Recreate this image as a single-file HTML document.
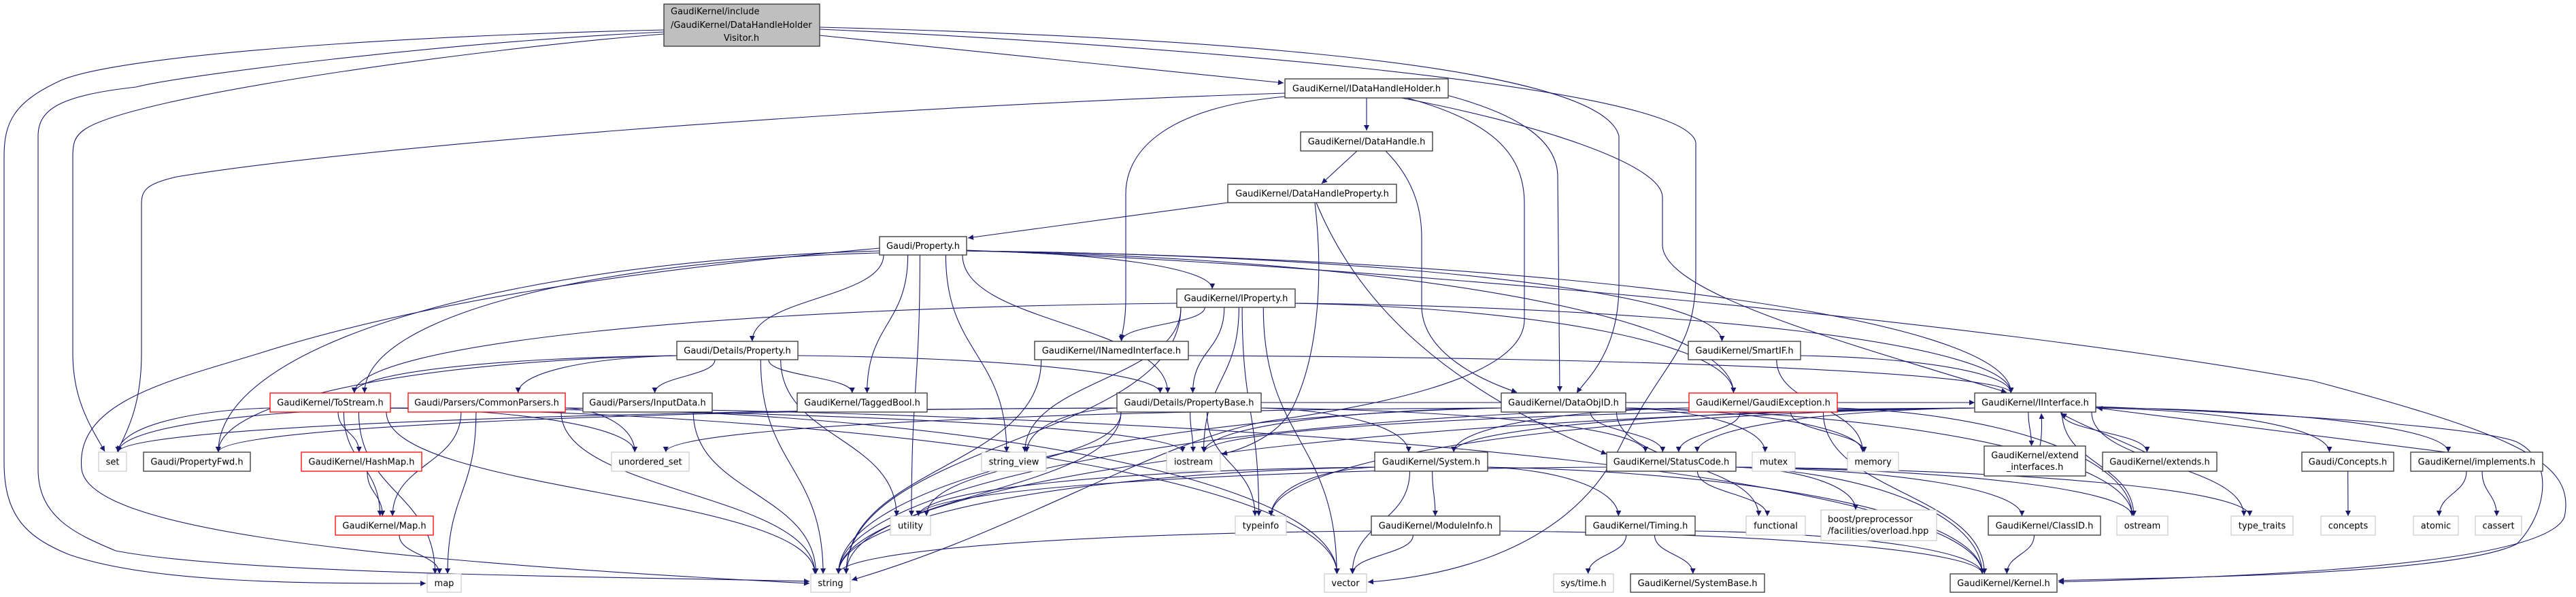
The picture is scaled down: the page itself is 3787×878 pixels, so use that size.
<!DOCTYPE html>
<html><head><meta charset="utf-8">
<style>
html,body{margin:0;padding:0;background:#fff;width:3787px;height:878px;overflow:hidden}
svg{display:block}
text{font-family:"DejaVu Sans","Liberation Sans",sans-serif;font-size:13px;fill:#000}
</style></head>
<body>
<svg id="g" xmlns="http://www.w3.org/2000/svg" width="3787" height="878" viewBox="0 0 3787 878">
<defs>
<marker id="ar" viewBox="0 0 10 10" refX="10" refY="5" markerWidth="10" markerHeight="8" markerUnits="userSpaceOnUse" orient="auto">
<path d="M0,0 L10,5 L0,10 z" fill="#191970"/>
</marker>
</defs>
<g id="edges" fill="none" stroke="#191970" stroke-width="1.1"></g>
<g id="nodes"></g>
</svg>
<script>
var R={r1:[116,144],r2:[194,222],r3:[271,298],r4:[348,375],r5:[425,452],r6:[502,529],r7:[578,606],r8:[665,693],r9:[759,787],r10:[844,871]};
var N={};
function n(id,x1,x2,row,label,t){var y=R[row];N[id]={x1:x1,x2:x2,y1:y[0],y2:y[1],label:label,t:t||'b',cx:(x1+x2)/2};}
N.T={x1:976,x2:1205,y1:6,y2:68,cx:1090,label:null,t:'top'};
n('IDHH',1889,2129,'r1','GaudiKernel/IDataHandleHolder.h');
n('DH',1912,2106,'r2','GaudiKernel/DataHandle.h');
n('DHP',1805,2053,'r3','GaudiKernel/DataHandleProperty.h');
n('Prop',1293,1421,'r4','Gaudi/Property.h');
n('IProp',1730,1904,'r5','GaudiKernel/IProperty.h');
n('DetProp',995,1173,'r6','Gaudi/Details/Property.h');
n('INamed',1521,1747,'r6','GaudiKernel/INamedInterface.h');
n('SmartIF',2482,2647,'r6','GaudiKernel/SmartIF.h');
n('ToStream',397,574,'r7','GaudiKernel/ToStream.h','r');
n('CommonP',600,831,'r7','Gaudi/Parsers/CommonParsers.h','r');
n('InputData',857,1047,'r7','Gaudi/Parsers/InputData.h');
n('Tagged',1172,1363,'r7','GaudiKernel/TaggedBool.h');
n('PropBase',1642,1854,'r7','Gaudi/Details/PropertyBase.h');
n('DataObjID',2207,2390,'r7','GaudiKernel/DataObjID.h');
n('GExc',2483,2701,'r7','GaudiKernel/GaudiException.h','r');
n('IInt',2903,3081,'r7','GaudiKernel/IInterface.h');
n('set',145,186,'r8','set','g');
n('PFwd',211,368,'r8','Gaudi/PropertyFwd.h');
n('HashMap',443,620,'r8','GaudiKernel/HashMap.h','r');
n('uset',899,1013,'r8','unordered_set','g');
n('sview',1443,1538,'r8','string_view','g');
n('iostream',1715,1794,'r8','iostream','g');
n('System',2021,2187,'r8','GaudiKernel/System.h');
n('SC',2362,2552,'r8','GaudiKernel/StatusCode.h');
n('mutex',2576,2639,'r8','mutex','g');
n('memory',2716,2791,'r8','memory','g');
N.extif={x1:2917,x2:3066,y1:656,y2:700,cx:2991.5,label:['GaudiKernel/extend','_interfaces.h'],t:'b'};
n('extends',3091,3259,'r8','GaudiKernel/extends.h');
n('Concepts',3384,3519,'r8','Gaudi/Concepts.h');
n('impl',3544,3738,'r8','GaudiKernel/implements.h');
n('Map',493,637,'r9','GaudiKernel/Map.h','r');
n('utility',1309,1368,'r9','utility','g');
n('typeinfo',1816,1891,'r9','typeinfo','g');
n('ModInfo',2016,2205,'r9','GaudiKernel/ModuleInfo.h');
n('Timing',2331,2492,'r9','GaudiKernel/Timing.h');
n('functional',2567,2654,'r9','functional','g');
N.boost={x1:2677,x2:2847,y1:750,y2:795,cx:2762,label:['boost/preprocessor','/facilities/overload.hpp'],t:'g',left:true};
n('ClassID',2923,3088,'r9','GaudiKernel/ClassID.h');
n('ostream',3112,3187,'r9','ostream','g');
n('ttraits',3280,3371,'r9','type_traits','g');
n('concepts',3412,3492,'r9','concepts','g');
n('atomic',3548,3614,'r9','atomic','g');
n('cassert',3639,3707,'r9','cassert','g');
n('map',628,678,'r10','map','g');
n('string',1192,1250,'r10','string','g');
n('vector',1947,2009,'r10','vector','g');
n('systime',2284,2372,'r10','sys/time.h','g');
n('SysBase',2397,2594,'r10','GaudiKernel/SystemBase.h');
n('Kernel',2867,3024,'r10','GaudiKernel/Kernel.h');

var E=document.getElementById('edges'),NG=document.getElementById('nodes'),S='http://www.w3.org/2000/svg';
function P(d){var p=document.createElementNS(S,'path');p.setAttribute('d',d);p.setAttribute('marker-end','url(#ar)');E.appendChild(p);}
function cl(v,a,b){return Math.max(a,Math.min(b,v));}
function e(a,b,o){a=N[a];b=N[b];o=o||0;
 var sx,sy,tx,ty;
 if(b.y1>a.y2+4){
  var dxc=b.cx-a.cx, dyc=b.y1-a.y2;
  if(Math.abs(dxc)>3.2*dyc && (b.x2<a.x1||b.x1>a.x2)){
   // side exit
   if(dxc>0){sx=a.x2;tx=cl(b.x1+(b.x2-b.x1)*0.3+o,b.x1+6,b.x2-6);}else{sx=a.x1;tx=cl(b.x2-(b.x2-b.x1)*0.3+o,b.x1+6,b.x2-6);}
   sy=a.y2-6+o*0.2;ty=b.y1;
   var dx=tx-sx,dy=ty-sy;
   P('M'+sx+','+sy+' C'+(sx+dx*0.55)+','+(sy+dy*0.05)+' '+tx+','+(ty-dy*0.55)+' '+tx+','+ty);
  }else{
  sx=cl(a.cx+(b.cx-a.cx)*0.25+o,a.x1+6,a.x2-6);sy=a.y2;
  tx=cl(b.cx+(a.cx-b.cx)*0.08+o*0.5,b.x1+6,b.x2-6);ty=b.y1;
  var dy=ty-sy;
  P('M'+sx+','+sy+' C'+sx+','+(sy+dy*0.5)+' '+tx+','+(ty-dy*0.5)+' '+tx+','+ty);
  }
 }else{
  if(b.cx>a.cx){sx=a.x2;tx=b.x1;}else{sx=a.x1;tx=b.x2;}
  sy=(a.y1+a.y2)/2+o;ty=(b.y1+b.y2)/2+o;
  var mx=(sx+tx)/2;
  P('M'+sx+','+sy+' C'+mx+','+sy+' '+mx+','+ty+' '+tx+','+ty);
 }}
P('M976,44 C600,52 180,80 90,118 C20,150 6,180 6,230 L6,680 C6,760 40,790 100,815 C220,858 450,858 626,858');
P('M976,47 C650,62 260,112 200,128 C90,140 56,160 56,200 L56,690 C56,760 110,785 170,810 C350,845 900,848 1190,855');
P('M976,50 C700,72 200,140 125,190 C110,200 107,210 107,230 L107,520 C107,590 135,630 154,664');
P('M1889,137 C1200,160 500,220 260,260 C215,270 208,280 208,300 L208,520 C208,590 190,630 172,664');
P('M1205,40 C1600,50 2350,80 2380,200 L2380,420 C2380,520 2330,560 2318,578');
P('M1205,43 C1600,60 2480,120 2493,210 L2493,400 C2493,520 2450,520 2380,660 C2300,820 2100,850 2011,856');
P('M1205,52 L1887,122');
P('M2068,144 C2200,180 2241,230 2241,300 L2241,470 C2241,560 2000,600 1860,620 C1700,650 1500,780 1252,853');
P('M2127,140 C2240,170 2290,210 2290,260 L2293,576');
P('M2060,144 C2250,180 2444,240 2444,290 L2444,360 C2444,430 2700,500 2950,577');
P('M1889,142 C1700,160 1655,230 1655,285 L1655,440 C1655,470 1650,490 1648,500');
P('M2009,144 L2009,192');
P('M2037,222 C2085,270 2090,320 2090,350 L2090,450 C2090,520 2180,560 2230,577');
P('M1995,222 L1943,270');
P('M1805,298 C1650,320 1500,340 1423,350');
P('M1933,298 C1945,400 1940,520 1900,600 C1880,640 1830,660 1796,668');
P('M1935,298 C1990,430 2100,560 2362,668');
e('Prop','IProp');e('Prop','DetProp');e('Prop','Tagged');e('Prop','utility');e('Prop','sview');e('Prop','PropBase');
e('Prop','ToStream',15);e('Prop','PFwd');e('Prop','SmartIF');e('Prop','IInt');e('Prop','GExc');
P('M1421,368 C2000,390 2900,470 3400,560 C3700,640 3787,680 3770,760 C3740,840 3200,850 3026,856');
P('M1293,365 C900,400 600,450 380,520 C250,560 110,590 120,690 C130,770 450,820 1190,858');
e('IProp','INamed');e('IProp','PropBase');e('IProp','sview',-20);e('IProp','iostream',20);e('IProp','string',-30);e('IProp','ToStream');e('IProp','IInt');e('IProp','GExc');e('IProp','vector');e('IProp','typeinfo');
e('DetProp','ToStream');e('DetProp','CommonP');e('DetProp','InputData');e('DetProp','Tagged');e('DetProp','PropBase');e('DetProp','string');e('DetProp','utility');e('DetProp','PFwd');
e('INamed','IInt');e('INamed','string');
e('SmartIF','IInt');e('SmartIF','memory');
e('ToStream','set');e('ToStream','HashMap');e('ToStream','Map');e('ToStream','map');e('ToStream','string');e('ToStream','uset');e('ToStream','vector');e('ToStream','iostream');
e('CommonP','Map');e('CommonP','map');e('CommonP','string');e('CommonP','uset');e('CommonP','set');e('CommonP','vector');e('CommonP','Kernel');
e('InputData','string');e('HashMap','Map');e('Map','map');
e('PropBase','set');e('PropBase','PFwd');e('PropBase','sview');e('PropBase','iostream');e('PropBase','utility');e('PropBase','typeinfo');e('PropBase','string');e('PropBase','System');e('PropBase','SC');e('PropBase','IInt');
e('DataObjID','SC');e('DataObjID','mutex');e('DataObjID','memory');e('DataObjID','iostream');e('DataObjID','string');e('DataObjID','functional');e('DataObjID','ostream');e('DataObjID','uset');
e('GExc','SC');e('GExc','memory');e('GExc','System');e('GExc','string');e('GExc','Kernel');e('GExc','ostream');
e('IInt','SC');e('IInt','extif',-10);e('IInt','extends',-8);e('IInt','Concepts');e('IInt','impl',-3);e('IInt','ostream');e('IInt','ttraits');e('IInt','System');e('IInt','typeinfo');e('IInt','string');e('IInt','iostream');
P('M3081,598 C3400,610 3650,630 3700,650 C3760,680 3740,760 3700,800 C3600,850 3100,850 3026,854');
P('M2999,656 C3002,640 3002,625 3001,608');
P('M3154,665 C3100,640 3060,625 3030,608');
P('M3596,665 C3400,640 3200,615 3083,600');
e('System','utility');e('System','typeinfo');e('System','ModInfo');e('System','Timing');e('System','vector');e('System','string');e('System','Kernel');
e('SC','functional');e('SC','boost');e('SC','ostream');e('SC','Kernel');e('SC','ClassID');e('SC','ttraits');e('SC','utility');
e('ModInfo','string');e('ModInfo','vector');e('ModInfo','Kernel');
e('Timing','systime');e('Timing','SysBase');e('Timing','Kernel');
e('ClassID','Kernel');e('Concepts','concepts');e('impl','atomic');e('impl','cassert');

for(var k in N){var d=N[k];
 var r=document.createElementNS(S,'rect');r.setAttribute('x',d.x1);r.setAttribute('y',d.y1);r.setAttribute('width',d.x2-d.x1);r.setAttribute('height',d.y2-d.y1);
 var st=d.t=='r'?'#ff0000':d.t=='g'?'#bfbfbf':'#333';
 r.setAttribute('fill',d.t=='top'?'#bfbfbf':'#fff');r.setAttribute('stroke',st);r.setAttribute('stroke-width',d.t=='g'?'1':'1.3');NG.appendChild(r);
 if(d.t=='top'){
  var L=[['GaudiKernel/include',986,24,'start'],['/GaudiKernel/DataHandleHolder',986,44,'start'],['Visitor.h',1090,63,'middle']];
  L.forEach(function(l){var t=document.createElementNS(S,'text');t.setAttribute('x',l[1]);t.setAttribute('y',l[2]-3);t.setAttribute('text-anchor',l[3]);t.textContent=l[0];NG.appendChild(t);});
 }else if(Array.isArray(d.label)){
  d.label.forEach(function(s,i){var t=document.createElementNS(S,'text');
   if(d.left){t.setAttribute('x',d.x1+10);t.setAttribute('text-anchor','start');}else{t.setAttribute('x',d.cx);t.setAttribute('text-anchor','middle');}
   t.setAttribute('y',d.y1+18+i*17);t.textContent=s;NG.appendChild(t);});
 }else{var t=document.createElementNS(S,'text');t.setAttribute('x',d.cx);t.setAttribute('y',(d.y1+d.y2)/2+4.5);t.setAttribute('text-anchor','middle');t.textContent=d.label;NG.appendChild(t);}
}
</script>
</body></html>
